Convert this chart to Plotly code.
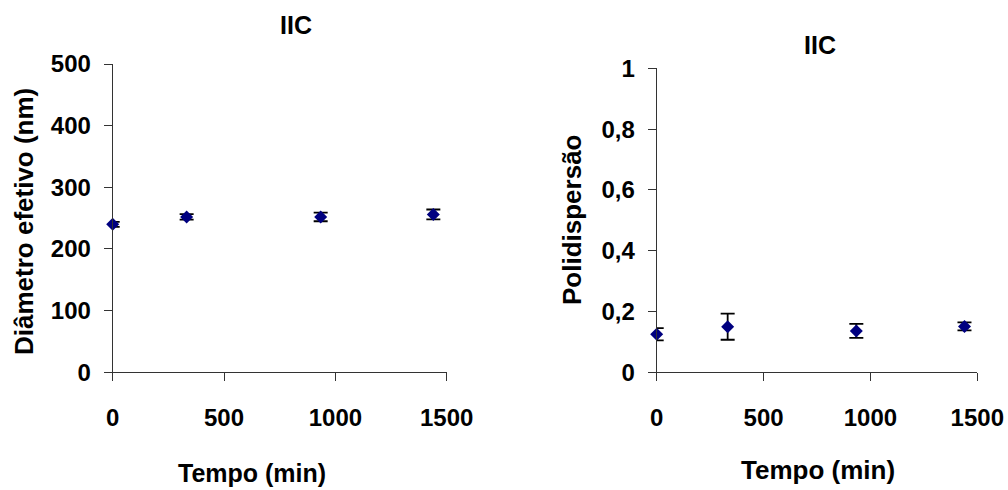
import plotly.graph_objects as go

# Data
tempo = [0, 332, 934, 1440]
diametro = [240, 252, 252, 256]
diametro_err = [4, 4.5, 7, 8]
polidispersao = [0.125, 0.150, 0.136, 0.151]
polidispersao_err = [0.02, 0.043, 0.023, 0.013]

x_ticks = [0, 500, 1000, 1500]
x_ticktext = ["0", "500", "1000", "1500"]
y1_ticks = [0, 100, 200, 300, 400, 500]
y1_ticktext = ["0", "100", "200", "300", "400", "500"]
y2_ticks = [0, 0.2, 0.4, 0.6, 0.8, 1]
y2_ticktext = ["0", "0,2", "0,4", "0,6", "0,8", "1"]

W, H = 1008, 490
FONT = "Liberation Sans, Arial, sans-serif"
NAVY = "#000080"

def bold(lst):
    return [f"<b>{t}</b>" for t in lst]

fig = go.Figure()
fig.add_trace(go.Scatter(
    x=tempo, y=diametro, mode="markers",
    marker=dict(symbol="diamond", size=10, color=NAVY),
    error_y=dict(type="data", array=diametro_err, color="black", thickness=1.8, width=7),
    xaxis="x", yaxis="y", showlegend=False, cliponaxis=False))
fig.add_trace(go.Scatter(
    x=tempo, y=polidispersao, mode="markers",
    marker=dict(symbol="diamond", size=10, color=NAVY),
    error_y=dict(type="data", array=polidispersao_err, color="black", thickness=1.8, width=7),
    xaxis="x2", yaxis="y2", showlegend=False, cliponaxis=False))

def px_x(p):
    return p / W

def px_y(p):
    return 1 - p / H

axis_common = dict(
    showgrid=False, zeroline=False, showline=True, linecolor="#333333", linewidth=1,
    ticks="outside", ticklen=8, tickcolor="#333333", tickwidth=1, automargin=False,
    tickfont=dict(family=FONT, size=24, color="black"),
)

fig.update_layout(
    template="none",
    width=W, height=H,
    margin=dict(l=0, r=0, t=0, b=0, pad=0),
    paper_bgcolor="white", plot_bgcolor="white",
    font=dict(family=FONT, color="black"),
    xaxis=dict(domain=[px_x(112.7), px_x(446.7)], range=[0, 1500], anchor="y",
               tickvals=x_ticks, ticktext=bold(x_ticktext), ticklabelstandoff=16, **axis_common),
    yaxis=dict(domain=[px_y(372.3), px_y(64)], range=[0, 500], anchor="x",
               tickvals=y1_ticks, ticktext=bold(y1_ticktext), ticklabelstandoff=8, **axis_common),
    xaxis2=dict(domain=[px_x(656.7), px_x(977.3)], range=[0, 1500], anchor="y2",
                tickvals=x_ticks, ticktext=bold(x_ticktext), ticklabelstandoff=16, **axis_common),
    yaxis2=dict(domain=[px_y(372.3), px_y(68.3)], range=[0, 1], anchor="x2",
                tickvals=y2_ticks, ticktext=bold(y2_ticktext), ticklabelstandoff=8, **axis_common),
)

def ann(text, cx, cy, size, angle=0):
    fig.add_annotation(text=f"<b>{text}</b>", x=px_x(cx), y=px_y(cy),
                       xref="paper", yref="paper", xanchor="center", yanchor="middle",
                       showarrow=False, textangle=angle,
                       font=dict(family=FONT, size=size, color="black"))

ann("IIC", 296, 25, 25)
ann("IIC", 820, 45, 25)
ann("Diâmetro efetivo (nm)", 24, 222, 26, -90)
ann("Polidispersão", 572, 220, 26, -90)
ann("Tempo (min)", 252, 473, 25)
ann("Tempo (min)", 818, 470, 26)

fig.write_html("out.html")
